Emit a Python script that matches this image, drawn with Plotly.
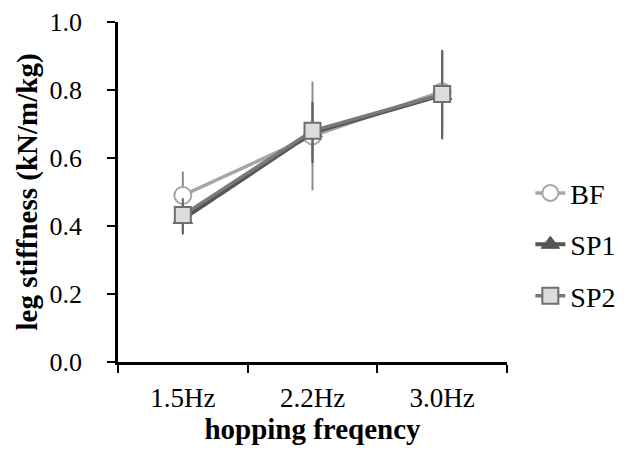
import plotly.graph_objects as go

categories = ["1.5Hz", "2.2Hz", "3.0Hz"]
bf = [0.49, 0.665, 0.795]
sp1 = [0.42, 0.675, 0.785]
sp2 = [0.432, 0.68, 0.788]
bf_err = [0.07, 0.16, 0.12]
sp1_err = [0.045, 0.09, 0.13]
sp2_err = [0.05, 0.08, 0.13]
series_names = ["BF", "SP1", "SP2"]
y_ticks = [0.0, 0.2, 0.4, 0.6, 0.8, 1.0]

FONT = "Liberation Serif"

fig = go.Figure()

fig.add_trace(go.Scatter(
    x=categories, y=bf, name=series_names[0], mode="lines+markers", legendgroup="a",
    line=dict(color="#a6a6a6", width=3.5),
    marker=dict(symbol="circle", size=17, color="white", line=dict(color="#a6a6a6", width=2)),
    error_y=dict(type="data", array=bf_err, color="#8c8c8c", thickness=2, width=0),
))
fig.add_trace(go.Scatter(
    x=categories, y=sp1, name=series_names[1], mode="lines+markers", legendgroup="b",
    line=dict(color="#555555", width=4),
    marker=dict(symbol="triangle-up", size=17, color="#555555", line=dict(color="#555555", width=1)),
    error_y=dict(type="data", array=sp1_err, color="#555555", thickness=2, width=0),
))
fig.add_trace(go.Scatter(
    x=categories, y=sp2, name=series_names[2], mode="lines+markers", legendgroup="c",
    line=dict(color="#7a7a7a", width=3.5),
    marker=dict(symbol="square", size=16, color="#dcdcdc", line=dict(color="#6e6e6e", width=2)),
    error_y=dict(type="data", array=sp2_err, color="#666666", thickness=2, width=0),
))

fig.update_layout(
    width=632, height=458,
    margin=dict(l=110, r=133, t=14, b=104, autoexpand=False),
    paper_bgcolor="white", plot_bgcolor="white",
    font=dict(family=FONT, color="black", size=26),
    showlegend=True,
    legend=dict(x=1.06, y=0.57, xanchor="left", yanchor="top",
                font=dict(family=FONT, size=28, color="black"),
                tracegroupgap=12, bgcolor="rgba(0,0,0,0)",
                itemwidth=30),
)
fig.update_xaxes(
    type="category", tickson="boundaries", range=[-0.5, 2.5], automargin=False,
    showline=True, linecolor="black", linewidth=2.5,
    ticks="outside", ticklen=8, tickwidth=2, tickcolor="black",
    showgrid=False, zeroline=False,
    tickfont=dict(family=FONT, size=27), ticklabelstandoff=10,
    title=dict(text="<b>hopping freqency</b>", font=dict(family=FONT, size=29), standoff=2),
)
fig.update_yaxes(
    range=[0, 1.0], tickvals=y_ticks, ticktext=["%.1f" % v for v in y_ticks], automargin=False,
    showline=True, linecolor="black", linewidth=2.5,
    ticks="outside", ticklen=8, tickwidth=2, tickcolor="black",
    showgrid=False, zeroline=False,
    tickfont=dict(family=FONT, size=26), ticklabelstandoff=20,
    title=dict(text="<b>leg stiffness (kN/m/kg)</b>", font=dict(family=FONT, size=29), standoff=4),
)

fig.write_html("out.html")
